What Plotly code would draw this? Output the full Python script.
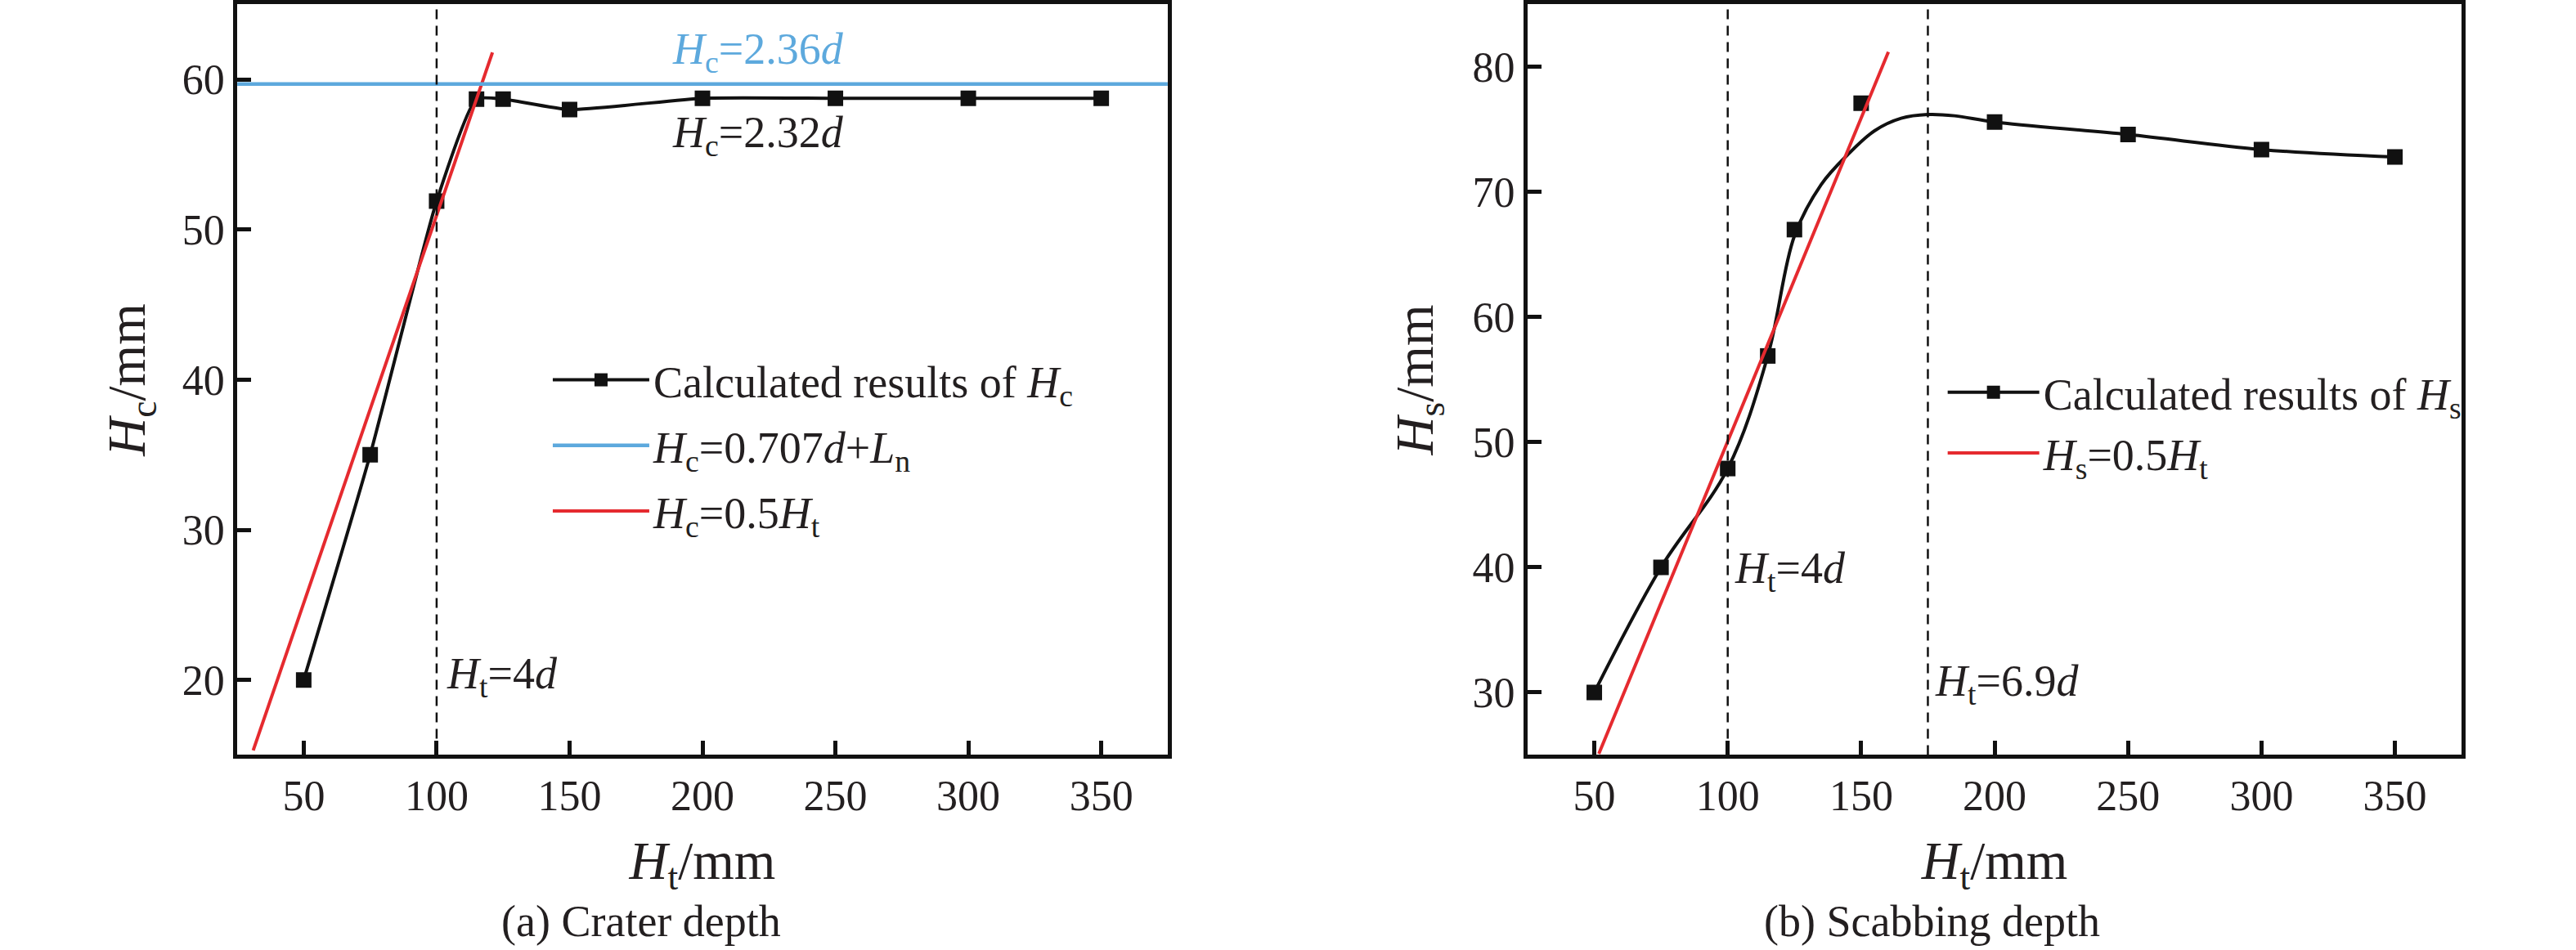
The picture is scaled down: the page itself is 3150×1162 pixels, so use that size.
import plotly.graph_objects as go

# H_t values (mm), shared by both panels
ht = [50, 75, 100, 115, 125, 150, 200, 250, 300, 350]

# (a) crater depth H_c
crater = [20.0, 35.0, 51.9, 58.7, 58.7, 58.0, 58.75, 58.75, 58.75, 58.75]
crater_limit = 59.7          # H_c = 0.707d + L_n
crater_fit_x = [31, 121]     # H_c = 0.5 H_t line, as drawn
crater_fit_y = [15.3, 61.8]
crater_marks = [100]

# (b) scabbing depth H_s
scab = [30.0, 40.0, 47.9, 56.9, 67.0, 77.1, 75.6, 74.6, 73.4, 72.8]
# smoothed curve through the scabbing results
scab_curve_x = [50, 75, 100, 115, 125, 135, 145, 155, 165, 175, 185, 200, 250, 300, 350]
scab_curve_y = [30.0, 40.0, 47.9, 56.9, 66.5, 70.6, 73.0, 74.9, 75.9, 76.2, 76.1, 75.6, 74.6, 73.4, 72.8]
scab_fit_x = [51.7, 160.2]
scab_fit_y = [25.1, 81.2]
scab_marks = [100, 175]

FONT = "Liberation Serif"
FS = 54
TICK_FS = 52
BLACK = "#111111"
TEXT = "#231F20"
BLUE = "#5DA9DD"
RED = "#E52A2F"
DASH = dict(color=BLACK, width=2.5, dash="12px,8px")

fig = go.Figure()

# ---- left panel
fig.add_trace(go.Scatter(
    x=ht, y=crater, mode="lines+markers", name="Calculated results of <i>H</i><sub>c</sub>",
    line=dict(color=BLACK, width=4, shape="spline", smoothing=0.5),
    marker=dict(symbol="square", size=19, color=BLACK),
    xaxis="x", yaxis="y", legend="legend", legendrank=1, legendgroup="a1",
))
fig.add_shape(type="line", xref="x domain", x0=0, x1=1, yref="y", y0=crater_limit, y1=crater_limit,
              line=dict(color=BLUE, width=4.5), showlegend=True,
              name="<i>H</i><sub>c</sub>=0.707<i>d</i>+<i>L</i><sub>n</sub>",
              legend="legend", legendrank=2, legendgroup="a2")
fig.add_trace(go.Scatter(
    x=crater_fit_x, y=crater_fit_y, mode="lines", name="<i>H</i><sub>c</sub>=0.5<i>H</i><sub>t</sub>",
    line=dict(color=RED, width=4), xaxis="x", yaxis="y",
    legend="legend", legendrank=3, legendgroup="a3",
))
for v in crater_marks:
    fig.add_shape(type="line", xref="x", x0=v, x1=v, yref="y domain", y0=0, y1=1, line=DASH)

# ---- right panel
fig.add_trace(go.Scatter(
    x=scab_curve_x, y=scab_curve_y, mode="lines", showlegend=False,
    line=dict(color=BLACK, width=4, shape="spline", smoothing=1.0),
    xaxis="x2", yaxis="y2",
))
fig.add_trace(go.Scatter(
    x=ht, y=scab, mode="markers", showlegend=False,
    marker=dict(symbol="square", size=19, color=BLACK),
    xaxis="x2", yaxis="y2",
))
fig.add_trace(go.Scatter(
    x=[None], y=[None], mode="lines+markers", name="Calculated results of <i>H</i><sub>s</sub>",
    line=dict(color=BLACK, width=4), marker=dict(symbol="square", size=19, color=BLACK),
    xaxis="x2", yaxis="y2", legend="legend2", legendrank=1, legendgroup="b1",
))
fig.add_trace(go.Scatter(
    x=scab_fit_x, y=scab_fit_y, mode="lines", name="<i>H</i><sub>s</sub>=0.5<i>H</i><sub>t</sub>",
    line=dict(color=RED, width=4), xaxis="x2", yaxis="y2",
    legend="legend2", legendrank=2, legendgroup="b2",
))
for v in scab_marks:
    fig.add_shape(type="line", xref="x2", x0=v, x1=v, yref="y2 domain", y0=0, y1=1, line=DASH)

axis_common = dict(
    showline=True, linecolor=BLACK, linewidth=5, mirror=True,
    ticks="inside", ticklen=17, tickwidth=4.5, tickcolor=BLACK,
    showgrid=False, zeroline=False,
    tickfont=dict(family=FONT, size=TICK_FS, color=TEXT),
)
ydom = [0.2053, 0.9953]

fig.update_layout(
    width=3150, height=1162,
    margin=dict(l=0, r=0, t=0, b=0),
    paper_bgcolor="white", plot_bgcolor="white",
    font=dict(family=FONT, size=FS, color=TEXT),
    xaxis=dict(domain=[0.0921, 0.4533], range=[25, 375], dtick=50, anchor="y",
               title=dict(text="<i>H</i><sub>t</sub>/mm", standoff=30), **axis_common),
    yaxis=dict(domain=ydom, range=[15, 65], dtick=10, anchor="x",
               title=dict(text="<i>H</i><sub>c</sub>/mm", standoff=25), **axis_common),
    xaxis2=dict(domain=[0.5930, 0.9556], range=[25, 375], dtick=50, anchor="y2",
                title=dict(text="<i>H</i><sub>t</sub>/mm", standoff=30), **axis_common),
    yaxis2=dict(domain=ydom, range=[25, 85], dtick=10, anchor="x2",
                title=dict(text="<i>H</i><sub>s</sub>/mm", standoff=28), **axis_common),
    legend=dict(x=0.213, y=0.531, xanchor="left", yanchor="middle", bgcolor="rgba(0,0,0,0)",
                font=dict(family=FONT, size=FS), traceorder="grouped", tracegroupgap=7,
                itemwidth=118),
    legend2=dict(x=0.7545, y=0.555, xanchor="left", yanchor="middle", bgcolor="rgba(0,0,0,0)",
                 font=dict(family=FONT, size=FS), traceorder="grouped", tracegroupgap=1,
                 itemwidth=112),
    showlegend=True,
)

# in-plot labels
fig.add_annotation(x=221, y=61.85, xref="x", yref="y", showarrow=False,
                   text="<i>H</i><sub>c</sub>=2.36<i>d</i>", font=dict(color=BLUE, size=FS))
fig.add_annotation(x=221, y=56.3, xref="x", yref="y", showarrow=False,
                   text="<i>H</i><sub>c</sub>=2.32<i>d</i>", font=dict(color=TEXT, size=FS))
fig.add_annotation(x=103, y=20.2, xref="x", yref="y", showarrow=False, xanchor="left",
                   text="<i>H</i><sub>t</sub>=4<i>d</i>", font=dict(size=FS))
fig.add_annotation(x=102, y=39.7, xref="x2", yref="y2", showarrow=False, xanchor="left",
                   text="<i>H</i><sub>t</sub>=4<i>d</i>", font=dict(size=FS))
fig.add_annotation(x=177, y=30.7, xref="x2", yref="y2", showarrow=False, xanchor="left",
                   text="<i>H</i><sub>t</sub>=6.9<i>d</i>", font=dict(size=FS))

# panel captions
fig.add_annotation(x=784 / 3150, y=1 - 1127 / 1162, xref="paper", yref="paper", showarrow=False,
                   xanchor="center", yanchor="middle", text="(a) Crater depth", font=dict(size=FS))
fig.add_annotation(x=2362 / 3150, y=1 - 1127 / 1162, xref="paper", yref="paper", showarrow=False,
                   xanchor="center", yanchor="middle", text="(b) Scabbing depth", font=dict(size=FS))

fig.write_html("out.html", config={"displayModeBar": False},
               post_script="document.body.style.margin='0';")
